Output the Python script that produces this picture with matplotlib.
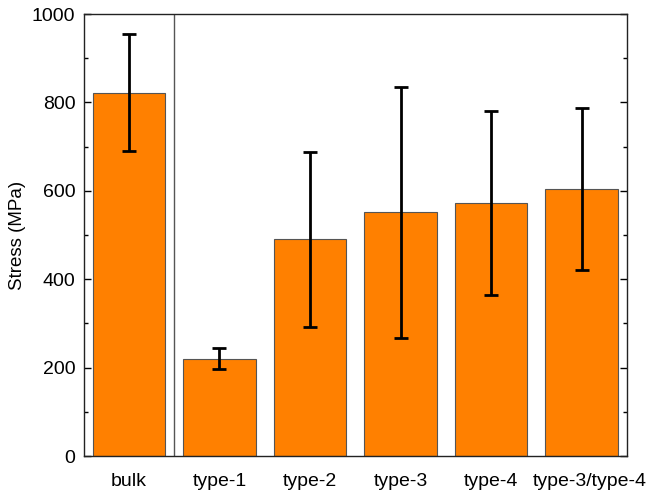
import matplotlib
matplotlib.use("Agg")
import matplotlib.pyplot as plt
import matplotlib.transforms as mtransforms
from matplotlib.ticker import MultipleLocator

plt.rcParams['font.family'] = ['Liberation Sans', 'DejaVu Sans']

categories = ["bulk", "type-1", "type-2", "type-3", "type-4", "type-3/type-4"]
stress = [822, 220, 490, 551, 572, 604]
stress_err = [132, 24, 197, 284, 208, 183]

fig = plt.figure(figsize=(6.48, 4.93), dpi=100)
ax = fig.add_axes([0.129, 0.075, 0.8386, 0.8966])

x = list(range(len(categories)))
ax.bar(x, stress, width=0.8, color="#FF8000", edgecolor="#555555", linewidth=0.8, zorder=2)
ax.errorbar(x, stress, yerr=stress_err, fmt="none", ecolor="black",
            elinewidth=2, capsize=5, capthick=2, zorder=3)

# separator between bulk and the typed samples
ax.axvline(0.5, color="#555555", linewidth=1, zorder=1)

ax.set_xlim(-0.5, 5.5)
ax.set_ylim(0, 1000)
ax.set_xticks(x)
ax.set_xticklabels(categories, fontsize=14)
ax.yaxis.set_major_locator(MultipleLocator(200))
ax.yaxis.set_minor_locator(MultipleLocator(100))
ax.tick_params(axis="y", which="both", direction="in", left=True, right=True,
               labelsize=14, pad=6)
ax.tick_params(axis="y", which="major", length=5, width=1)
ax.tick_params(axis="y", which="minor", length=3, width=1)
ax.tick_params(axis="x", which="both", length=0, pad=12)
ax.set_ylabel("Stress (MPa)", fontsize=13.5, labelpad=4)

# nudge the long last label right so it clears its neighbour
last = ax.get_xticklabels()[-1]
last.set_transform(last.get_transform() +
                   mtransforms.ScaledTranslation(8 / 100, 0, fig.dpi_scale_trans))

for s in ax.spines.values():
    s.set_linewidth(1)
    s.set_color("#222222")

fig.savefig("out.png", dpi=100)
